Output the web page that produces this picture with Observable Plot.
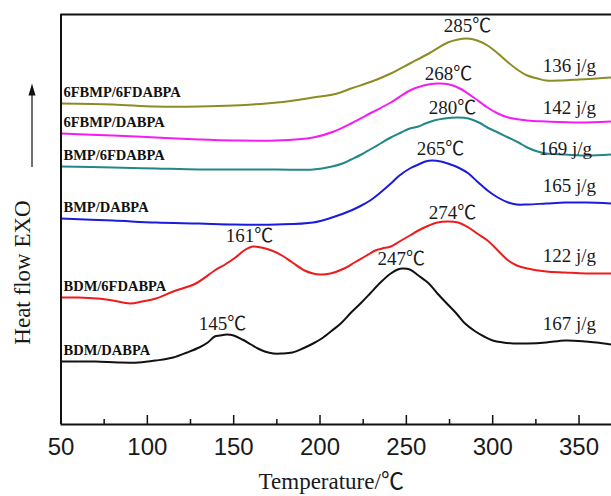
<!DOCTYPE html>
<html>
<head>
<meta charset="utf-8">
<script src="https://cdn.jsdelivr.net/npm/d3@7"></script>
<script src="https://cdn.jsdelivr.net/npm/@observablehq/plot@0.6"></script>
<style>
  body { margin: 0; background: #fff; }
</style>
</head>
<body>
<div id="chart"></div>
<script>
// ---------- data ----------
const xDomain = [50, 368.8];
const yDomain = [0, 410];
const majorTicks = [50, 100, 150, 200, 250, 300, 350];
const minorTicks = [75, 125, 175, 225, 275, 325];

const seriesNames = ["6FBMP/6FDABPA", "6FBMP/DABPA", "BMP/6FDABPA", "BMP/DABPA", "BDM/6FDABPA", "BDM/DABPA"];

const t6FBMP_6FDABPA = [50, 80, 105, 130, 150, 175, 196, 210, 218, 230, 241, 252, 263, 274, 280, 285, 291, 297, 303, 309, 315, 320, 326, 331, 340, 350, 360, 369];
const v6FBMP_6FDABPA = [321, 320, 318, 318, 319, 322, 327, 331, 336, 343, 351, 361, 371, 382, 385, 386, 384, 379, 371, 362, 354, 349, 346, 344, 344, 345, 346, 347];

const t6FBMP_DABPA = [50, 80, 105, 130, 150, 175, 196, 208, 218, 230, 241, 252, 260, 268, 275, 281, 289, 297, 303, 309, 320, 331, 350, 369];
const v6FBMP_DABPA = [291, 289, 287, 285, 284, 284, 287, 293, 301, 312, 322, 334, 339, 341, 340, 336, 327, 317, 311, 307, 304, 303, 302, 303];

const tBMP_6FDABPA = [50, 80, 105, 130, 150, 175, 196, 207, 213, 218, 224, 229, 235, 241, 247, 252, 257, 261, 266, 272, 280, 286, 292, 298, 303, 309, 315, 320, 326, 331, 342, 354, 369];
const vBMP_6FDABPA = [258, 257, 256, 255, 255, 255, 255, 258, 261, 265, 270, 275, 281, 287, 292, 296, 298, 301, 304, 306, 307, 306, 302, 296, 292, 287, 282, 277, 273, 271, 270, 269, 270];

const tBMP_DABPA = [50, 80, 105, 130, 150, 175, 196, 207, 218, 224, 229, 235, 241, 246, 252, 257, 261, 265, 270, 274, 280, 286, 291, 297, 303, 309, 314, 320, 331, 342, 354, 369];
const vBMP_DABPA = [206, 204, 202, 201, 200, 200, 202, 207, 214, 219, 224, 232, 241, 249, 256, 260, 263, 264, 263, 261, 257, 251, 243, 234, 227, 222, 220, 220, 221, 222, 222, 221];

const tBDM_6FDABPA = [50, 60, 71, 80, 90, 97, 105, 115, 128, 139, 145, 151, 156, 161, 166, 172, 178, 184, 191, 196, 200, 206, 214, 220, 226, 229, 232, 236, 241, 246, 252, 257, 263, 268, 274, 280, 286, 291, 297, 303, 309, 314, 320, 331, 342, 354, 369];
const vBDM_6FDABPA = [127, 127, 126, 124, 121, 123, 126, 133, 141, 154, 160, 167, 174, 178, 177, 174, 169, 162, 154, 151, 150, 151, 156, 162, 168, 171, 174, 176, 178, 183, 189, 194, 199, 202, 203, 202, 197, 191, 184, 174, 164, 159, 156, 153, 152, 151, 151];

const tBDM_DABPA = [50, 70, 83, 95, 105, 115, 123, 130, 135, 139, 142, 146, 150, 155, 160, 164, 168, 173, 178, 184, 190, 196, 201, 207, 212, 218, 224, 229, 235, 241, 245, 248, 252, 257, 263, 268, 274, 279, 284, 290, 295, 300, 306, 312, 320, 331, 342, 354, 360, 369];
const vBDM_DABPA = [63, 63, 62, 62, 64, 67, 72, 77, 82, 88, 89, 90, 89, 85, 80, 76, 73, 71, 71, 72, 76, 81, 86, 94, 101, 112, 122, 131, 142, 151, 155, 156, 155, 149, 141, 131, 120, 111, 101, 93, 88, 84, 82, 81, 81, 82, 84, 83, 82, 80];

// annotation texts and their anchors (temperature, heat-flow units)
const peakLabels = ["285℃", "268℃", "280℃", "265℃", "274℃", "161℃", "247℃", "145℃"];
const peakLabelT = [285.4, 274.4, 276.7, 269.7, 276.7, 159.1, 247, 143.5];
const peakLabelV = [399, 351, 317, 276, 212, 189, 166, 101];

const enthalpyLabels = ["136 j/g", "142 j/g", "169 j/g", "165 j/g", "122 j/g", "167 j/g"];
const enthalpyLabelT = [344.4, 344.4, 342.1, 344.4, 344.4, 344.4];
const enthalpyLabelV = [359, 317, 276, 239, 169, 101];

const xTitle = "Temperature/℃";
const yTitle = "Heat flow EXO";
const exoArrow = [257, 335]; // arrow along the heat-flow axis title

// ---------- build ----------
const temps = [t6FBMP_6FDABPA, t6FBMP_DABPA, tBMP_6FDABPA, tBMP_DABPA, tBDM_6FDABPA, tBDM_DABPA];
const vals = [v6FBMP_6FDABPA, v6FBMP_DABPA, vBMP_6FDABPA, vBMP_DABPA, vBDM_6FDABPA, vBDM_DABPA];
const colors = ["#8c8c24", "#f41cf4", "#23878a", "#1b1bdc", "#ec1c1c", "#111111"];

const rows = seriesNames.flatMap((name, i) => temps[i].map((T, j) => ({name, T, v: vals[i][j]})));
const starts = seriesNames.map((name, i) => ({name, T: temps[i][0], v: vals[i][0]}));
const peaks = peakLabels.map((text, i) => ({text, T: peakLabelT[i], v: peakLabelV[i]}));
const enth = enthalpyLabels.map((text, i) => ({text, T: enthalpyLabelT[i], v: enthalpyLabelV[i]}));

const serif = "'Times New Roman', 'Liberation Serif', 'Noto Sans CJK SC', serif";
const sans = "Arial, 'Liberation Sans', sans-serif";

const arrowHead = {
  draw(ctx) {
    ctx.moveTo(0, -6);
    ctx.lineTo(3.5, 6);
    ctx.lineTo(-3.5, 6);
    ctx.closePath();
  }
};

const chart = Plot.plot({
  width: 611,
  height: 496,
  marginLeft: 60.5,
  marginRight: 0,
  marginTop: 14,
  marginBottom: 72,
  style: {background: "#fff", overflow: "visible"},
  x: {domain: xDomain, axis: null},
  y: {domain: yDomain, axis: null},
  color: {domain: seriesNames, range: colors},
  marks: [
    Plot.line(rows, {x: "T", y: "v", z: "name", stroke: "name", strokeWidth: 2, clip: true, curve: "catmull-rom"}),
    Plot.text(starts, {x: "T", y: "v", text: "name", textAnchor: "start", dx: 2.5, dy: -11,
      fontFamily: serif, fontWeight: "bold", fontSize: 14.5, fill: "#111"}),
    Plot.text(peaks, {x: "T", y: "v", text: "text", fontFamily: serif, fontSize: 19, fill: "#1a1a1a"}),
    Plot.text(enth, {x: "T", y: "v", text: "text", fontFamily: serif, fontSize: 19, fill: "#1a1a1a"}),
    // frame lines
    Plot.ruleY([yDomain[0], yDomain[1]], {stroke: "#111", strokeWidth: 2}),
    Plot.ruleX([xDomain[0]], {stroke: "#111", strokeWidth: 2}),
    // inward ticks
    Plot.tickX(majorTicks, {x: d => d, insetTop: 401, stroke: "#111", strokeWidth: 1.5}),
    Plot.tickX(minorTicks, {x: d => d, insetTop: 405, stroke: "#111", strokeWidth: 1.5}),
    Plot.axisX(majorTicks, {tickSize: 0, tickPadding: 13, fontSize: 24, fontFamily: sans, label: null, fill: "#1a1a1a"}),
    // axis titles
    Plot.text([xTitle], {text: d => d, frameAnchor: "bottom", textAnchor: "middle", lineAnchor: "middle",
      dy: 57, dx: -5, fontFamily: serif, fontSize: 23, fill: "#1a1a1a"}),
    Plot.text([yTitle], {text: d => d, frameAnchor: "left", textAnchor: "middle", lineAnchor: "middle",
      rotate: -90, dx: -38, dy: 53, fontFamily: serif, fontSize: 23, fill: "#1a1a1a"}),
    Plot.ruleX([xDomain[0]], {y1: exoArrow[0], y2: exoArrow[1], dx: -29, stroke: "#222", strokeWidth: 1.3}),
    Plot.dot([xDomain[0]], {x: d => d, y: exoArrow[1], dx: -29, symbol: arrowHead, fill: "#111", stroke: "none", r: 4})
  ]
});

document.getElementById("chart").appendChild(chart);
</script>
</body>
</html>
